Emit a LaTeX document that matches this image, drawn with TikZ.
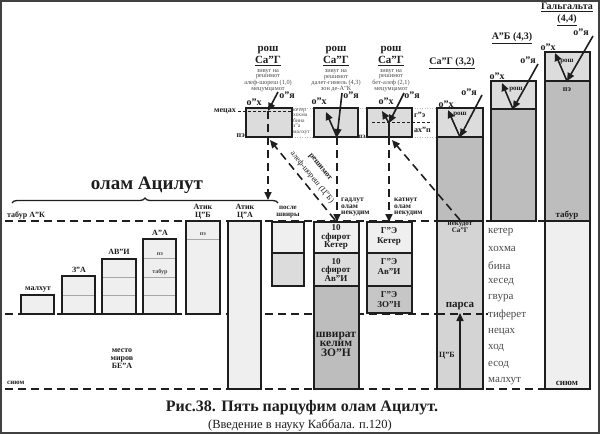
\documentclass[tikz,border=0pt]{standalone}
\usepackage{fontspec}
\setmainfont{Liberation Serif}
\usetikzlibrary{arrows.meta,decorations.pathreplacing}
\definecolor{ink}{HTML}{1E1E1E}
\definecolor{soft}{HTML}{4A4A4A}
\definecolor{cA}{HTML}{EFEFEF}
\definecolor{cB}{HTML}{DCDCDC}
\definecolor{cD}{HTML}{D4D4D4}
\definecolor{cE}{HTML}{C6C6C6}
\definecolor{cC}{HTML}{BDBDBD}
\newcommand\myfs[2]{\fontsize{#1}{#2}\selectfont}
\begin{document}
\begin{tikzpicture}[x=1pt,y=-1pt,
 box/.style={draw=ink,line width=1.5pt},
 sub/.style={draw=gray!70,line width=0.6pt},
 dl/.style={draw=ink,line width=1.6pt,dash pattern=on 8pt off 5pt},
 solidl/.style={draw=ink,line width=1.6pt},
 arr/.style={draw=ink,line width=1.6pt,-{Triangle[length=8pt,width=7pt]}},
 darr/.style={arr,dash pattern=on 8pt off 5pt},
 dotl/.style={draw=gray!55,line width=0.6pt,dash pattern=on 1pt off 1.5pt},
 tx/.style={inner sep=0pt,text=ink,align=center},
 b6/.style={tx,font=\bfseries\myfs{6}{6}},
 b7/.style={tx,font=\bfseries\myfs{7}{6.5}},
 b8/.style={tx,font=\bfseries\myfs{8}{8}},
 b9/.style={tx,font=\bfseries\myfs{9}{8.6}},
 b10/.style={tx,font=\bfseries\myfs{10}{10}},
 b11/.style={tx,font=\bfseries\myfs{11}{12}},
 s6/.style={tx,text=soft,font=\myfs{6.3}{5.6}},
 s5/.style={tx,text=soft,font=\myfs{5.6}{5.5},align=left},
 lst/.style={tx,text=soft,font=\myfs{11}{11},anchor=west},
]
\useasboundingbox (0,0) rectangle (600,434);
\draw[line width=2.2pt,draw=ink!85] (1.2,1.2) rectangle (598.8,432.8);

% guide lines
\coordinate (tabL) at (5,221); \coordinate (tabR) at (545,221);
\coordinate (parL) at (5,314); \coordinate (parR) at (488,314);
\coordinate (siL) at (5,389); \coordinate (siR) at (545,389);
\draw[dl] (tabL) -- (tabR);
\draw[dl] (parL) -- (parR);
\draw[dl] (siL) -- (siR);
\draw[dotl] (292,108) -- (437,108);
\draw[dotl] (292,137) -- (437,137);

% staircase
\filldraw[box,fill=cA] (21,295) rectangle (54,314);
\filldraw[box,fill=cA] (62,276) rectangle (95,314);
\draw[sub] (63,295) -- (94,295);
\filldraw[box,fill=cA] (102,259) rectangle (136,314);
\draw[sub] (103,277) -- (135,277); \draw[sub] (103,295) -- (135,295);
\filldraw[box,fill=cA] (143,239) rectangle (176,314);
\draw[sub] (144,258) -- (175,258); \draw[sub] (144,277) -- (175,277); \draw[sub] (144,295) -- (175,295);
\filldraw[box,fill=cA] (186,221) rectangle (220,314);
\draw[sub] (187,239) -- (219,239);
\filldraw[box,fill=cA] (228,221) rectangle (261,389);
% posle shviry
\filldraw[box,fill=cA] (272,222) rectangle (304,253);
\filldraw[box,fill=cB] (272,253) rectangle (304,286);
% 10 sfirot
\filldraw[box,fill=cA] (314,222) rectangle (359,253);
\filldraw[box,fill=cB] (314,253) rectangle (359,286);
\filldraw[box,fill=cC] (314,286) rectangle (359,389);
% G"E
\filldraw[box,fill=cA] (367,222) rectangle (412,253);
\filldraw[box,fill=cB] (367,253) rectangle (412,286);
\filldraw[box,fill=cE] (367,286) rectangle (412,313);
% SaG column
\filldraw[box,fill=cB] (437,108) rectangle (483,137);
\filldraw[box,fill=cC] (437,137) rectangle (483,221);
\filldraw[box,fill=cD] (437,221) rectangle (483,389);
\draw[dl] (437,314) -- (488,314);
% AB column
\filldraw[box,fill=cB] (491,81) rectangle (536,109);
\filldraw[box,fill=cC] (491,109) rectangle (536,221);
% Galgalta
\filldraw[box,fill=cB] (545,52) rectangle (590,81);
\filldraw[box,fill=cC] (545,81) rectangle (590,221);
\filldraw[box,fill=cA] (545,221) rectangle (590,389);
% top small boxes
\filldraw[box,fill=cB] (246,108) rectangle (292,137);
\filldraw[box,fill=cB] (314,108) rectangle (358,137);
\filldraw[box,fill=cB] (367,108) rectangle (412,137);
\draw[draw=ink,line width=0.7pt,dash pattern=on 3pt off 2pt] (238,111) -- (292,111);
\draw[draw=ink,line width=0.8pt,dash pattern=on 3pt off 2pt] (372,122) -- (432,122);

% brace
\draw[line width=1.3pt,draw=ink,decorate,decoration={brace,amplitude=5pt}] (12,203) -- (278,203);
\node[tx,font=\bfseries\myfs{19}{19}] (olam) at (147,185) {олам Ацилут};

% left labels
\node[b8,anchor=west] (tabAK) at (7,215) {табур А"К};
\node[b7,anchor=west] (siyum) at (7,383) {сиюм};
\node[b8] (mesto) at (122,359) {место\\миров\\БЕ"А};
\node[b8] (lMal) at (38,289) {малхут};
\node[b8] (lZA) at (79,270) {З"А};
\node[b8] (lAVI) at (119,252) {АВ"И};
\node[b8] (lAA) at (160,233) {А"А};
\node[b6,text=soft] (pe1) at (160,254) {пэ};
\node[b6,text=soft] (tab1) at (160,272) {табур};
\node[b8] (lAtikB) at (203,212) {Атик\\Ц"Б};
\node[b6,text=soft] (pe2) at (203,234) {пэ};
\node[b8] (lAtikA) at (245,212) {Атик\\Ц"А};
\node[b7] (lPosle) at (288,212) {после\\швиры};

% column texts
\node[tx,font=\bfseries\myfs{9}{8.5}] (k10) at (336,237) {10\\сфирот\\Кетер};
\node[tx,font=\bfseries\myfs{9}{8.5}] (a10) at (336,270) {10\\сфирот\\Ав"И};
\node[tx,font=\bfseries\myfs{11.5}{9.5}] (shv) at (336,344) {швират\\келим\\ЗО"Н};
\node[tx,font=\bfseries\myfs{9}{10}] (gk) at (389,236) {Г"Э\\Кетер};
\node[tx,font=\bfseries\myfs{9}{10}] (ga) at (389,267) {Г"Э\\Ав"И};
\node[tx,font=\bfseries\myfs{9}{10}] (gz) at (389,300) {Г"Э\\ЗО"Н};
\node[tx,font=\bfseries\myfs{7.5}{6.5},anchor=north west,align=left] (gadl) at (341,198) {гадлут\\олам\\некудим};
\node[tx,font=\bfseries\myfs{7.5}{6.5},anchor=north west,align=left] (katn) at (394,198) {катнут\\олам\\некудим};

% SaG column texts
\node[tx,font=\bfseries\myfs{7}{5.5}] (nek) at (460,227) {некудот\\Са"Г};
\node[tx,font=\bfseries\myfs{11}{11}] (parsa) at (460,306) {парса};
\node[b8] (cb) at (447,356) {Ц"Б};
\node[lst] (l1) at (488,232) {кетер};
\node[lst] (l2) at (488,248.6) {хохма};
\node[lst] (l3) at (488,265.2) {бина};
\node[lst] (l4) at (488,281.8) {хесед};
\node[lst] (l5) at (488,298.4) {гвура};
\node[lst] (l6) at (488,315) {тиферет};
\node[lst] (l7) at (488,331.6) {нецах};
\node[lst] (l8) at (488,348.2) {ход};
\node[lst] (l9) at (488,364.8) {есод};
\node[lst] (l10) at (488,381.4) {малхут};

% right column titles
\node[b10] (gTitle) at (567,7.5) {\underline{Гальгальта}};
\node[b10] (gNum) at (567,20) {\underline{(4,4)}};
\node[b10] (abT) at (512,38) {\underline{А"Б (4,3)}};
\node[b10] (sgT) at (452,63) {\underline{Са"Г (3,2)}};
\node[b7] (gRosh) at (567,62) {рош};
\node[b8] (gPe) at (567,90) {пэ};
\node[b9] (gTab) at (567,215) {табур};
\node[b9] (gSi) at (567,383) {сиюм};
\node[b7] (abRosh) at (516,90) {рош};
\node[b7] (sgRosh) at (460,115) {рош};

% right column arrows
\coordinate (gV) at (567,81); \coordinate (gY) at (593,36); \coordinate (gX) at (555,53);
\draw[arr] (gY) -- (gV); \draw[arr] (gV) -- (gX);
\node[b10] (gOY) at (581,32) {о"я};
\node[b10] (gOX) at (548,47) {о"х};
\coordinate (abV) at (513,109); \coordinate (abY) at (538,64); \coordinate (abX) at (502,83);
\draw[arr] (abY) -- (abV); \draw[arr] (abV) -- (abX);
\node[b10] (abOY) at (528,60) {о"я};
\node[b10] (abOX) at (497,76) {о"х};
\coordinate (sgV) at (460,137); \coordinate (sgY) at (482,95); \coordinate (sgX) at (448,110);
\draw[arr] (sgY) -- (sgV); \draw[arr] (sgV) -- (sgX);
\node[b10] (sgOY) at (469,92) {о"я};
\node[b10] (sgOX) at (446,104) {о"х};

% top boxes texts
\node[b11] (rosh1) at (268,56) {рош\\\underline{Са"Г}};
\node[s6] (zv1) at (268,80.5) {зивуг на\\решимот\\алеф-шореш (1,0)\\мецумцамот};
\node[b11] (rosh2) at (336,56) {рош\\\underline{Са"Г}};
\node[s6] (zv2) at (336,80.5) {зивуг на\\решимот\\далет-гимель (4,3)\\зон де-А"К};
\node[b11] (rosh3) at (391,56) {рош\\\underline{Са"Г}};
\node[s6] (zv3) at (391,80.5) {зивуг на\\решимот\\бет-алеф (2,1)\\мецумцамот};
\node[b8,anchor=east] (mezah) at (236,111) {мецах};
\node[b8,anchor=east] (pe3) at (245,136) {пэ};
\node[s5,anchor=north west] (sf1) at (293,108.5) {кетер\\хохма\\бина\\з"а\\малхут};
\node[b7] (pe4) at (362,137) {пэ};
\node[b8,anchor=west] (ge) at (414,115) {г"э};
\node[b8,anchor=west] (ahp) at (414,130) {ах"п};
\node[b10] (o1Y) at (287,95) {о"я};
\node[b10] (o1X) at (254,102) {о"х};
\node[b10] (o2Y) at (351,95) {о"я};
\node[b10] (o2X) at (319,101) {о"х};
\node[b10] (o3Y) at (412,95) {о"я};
\node[b10] (o3X) at (386,101) {о"х};

% top box arrows
\coordinate (v1) at (268,111); \coordinate (y1) at (278,92); \coordinate (brR) at (268,200);
\draw[arr] (y1) -- (v1);
\draw[darr] (v1) -- (brR);
\coordinate (v2) at (337,137); \coordinate (y2) at (342,93); \coordinate (x2) at (326,112); \coordinate (t2) at (337,222);
\draw[arr] (y2) -- (v2); \draw[arr] (v2) -- (x2); \draw[darr] (v2) -- (t2);
\coordinate (v3) at (389,123); \coordinate (y3) at (404,93); \coordinate (x3) at (382,111);
\coordinate (b3) at (389,137); \coordinate (t3) at (389,222);
\draw[arr] (y3) -- (v3); \draw[arr] (v3) -- (x3); \draw[solidl] (v3) -- (b3); \draw[darr] (b3) -- (t3);

% diagonal dashed arrows
\coordinate (d1s) at (335,220); \coordinate (d1e) at (270,140);
\draw[darr] (d1s) -- (d1e);
\coordinate (d2s) at (460,220); \coordinate (d2e) at (392,140);
\draw[darr] (d2s) -- (d2e);
\node[tx,font=\bfseries\myfs{8}{8},rotate=-51] (resh) at (320,167) {решимот};
\node[tx,font=\myfs{8}{8},rotate=-51] (alef) at (312,177) {алеф-шореш (Ц"Б)};

% C"B arrow
\coordinate (cbs) at (460,389); \coordinate (cbe) at (460,313);
\draw[arr] (cbs) -- (cbe);

% caption
\node[tx,font=\bfseries\myfs{16}{16}] (cap) at (302,408) {Рис.38. Пять парцуфим олам Ацилут.};
\node[tx,font=\myfs{12.5}{12}] (cap2) at (300,425) {(Введение в науку Каббала. п.120)};
\end{tikzpicture}
\end{document}
